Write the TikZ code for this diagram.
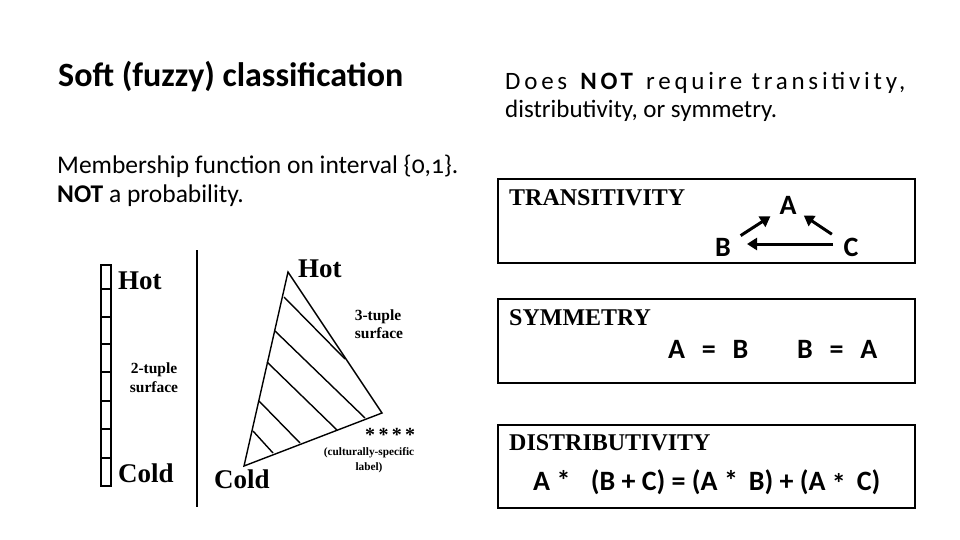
\documentclass[tikz,border=0pt]{standalone}
\usepackage{fontspec}
\setmainfont{Carlito}
\newfontfamily\bodyfont{Carlito}[Numbers=OldStyle]
\newfontfamily\spacedfont{Carlito}[LetterSpace=15]
\newfontfamily\tms{Liberation Serif}
\usetikzlibrary{arrows.meta}
\tikzset{
  lbl/.style={inner sep=0pt, anchor=base west},
  ctr/.style={inner sep=0pt, anchor=base},
  mid/.style={inner sep=0pt, anchor=center},
  panel/.style={draw, line width=2pt, anchor=north west, inner sep=0pt},
  arr/.style={line width=3pt, -{Triangle[length=10pt,width=12pt]}},
  fig/.style={line width=1.4pt},
}
\begin{document}
\begin{tikzpicture}[x=1pt,y=-1pt]
\useasboundingbox[fill=white] (0,0) rectangle (960,540);

% Title and left text
\node[lbl, font=\bfseries\fontsize{34}{34}\selectfont] (title) at (58,87) {Soft (fuzzy) classification};
\node[lbl, font=\bodyfont\fontsize{25.5}{25.5}\selectfont] (mem1) at (57,174) {Membership function on interval \{0,1\}.};
\node[lbl, font=\bodyfont\fontsize{25.5}{25.5}\selectfont] (mem2) at (57,202) {\textbf{NOT} a probability.};

% Right text
\node[lbl, font=\spacedfont\fontsize{25}{25}\selectfont] (req1) at (505,90) {Does \textbf{NOT} require transitivity,};
\node[lbl, font=\fontsize{25}{25}\selectfont] (req2) at (505,118) {distributivity, or symmetry.};

% Panels
\node[panel, minimum width=417pt, minimum height=84pt] (boxT) at (497,178) {};
\node[panel, minimum width=417pt, minimum height=84pt] (boxS) at (497,298) {};
\node[panel, minimum width=417pt, minimum height=83pt] (boxD) at (497,424) {};

\node[lbl, font=\tms\bfseries\fontsize{24}{24}\selectfont] (tT) at (509,205) {TRANSITIVITY};
\node[lbl, font=\tms\bfseries\fontsize{24}{24}\selectfont] (tS) at (509,325) {SYMMETRY};
\node[lbl, font=\tms\bfseries\fontsize{24}{24}\selectfont] (tD) at (509,450) {DISTRIBUTIVITY};

% Transitivity triangle
\node[mid, font=\bfseries\fontsize{28}{28}\selectfont] (A) at (788,205) {A};
\node[mid, font=\bfseries\fontsize{28}{28}\selectfont] (B) at (723,247) {B};
\node[mid, font=\bfseries\fontsize{28}{28}\selectfont] (C) at (851,247) {C};
\draw[arr, shorten <=21pt, shorten >=21pt] (B.center) -- (A.center);
\draw[arr, shorten <=23pt, shorten >=19pt] (C.center) -- (A.center);
\draw[arr, shorten <=18pt, shorten >=24pt] ([yshift=3pt]C.center) -- ([yshift=3pt]B.center);

% Symmetry
\node[lbl, font=\bfseries\fontsize{28}{28}\selectfont] (sym1) at (668,358) {A\hspace{0.6em}=\hspace{0.6em}B};
\node[lbl, font=\bfseries\fontsize{28}{28}\selectfont] (sym2) at (797,358) {B\hspace{0.6em}=\hspace{0.6em}A};

% Distributivity
\node[lbl, font=\bfseries\fontsize{28}{28}\selectfont] (dist) at (533,490) {A *\hspace{0.5em} (B + C) = (A * \,B) + (A \raisebox{-0.25ex}{*} \,C)};

% Left figure: ladder
\draw[fig] (101,265) rectangle (111,486);
\foreach \yy in {289,317,344,372,401,429,458} \draw[fig] (101,\yy) -- (111,\yy);
\node[lbl, font=\tms\bfseries\fontsize{27}{27}\selectfont] (hot1) at (118,289) {Hot};
\node[lbl, font=\tms\bfseries\fontsize{27}{27}\selectfont] (cold1) at (118,482) {Cold};
\node[ctr, font=\tms\bfseries\fontsize{15.5}{15.5}\selectfont] (tup2a) at (154,373) {2-tuple};
\node[ctr, font=\tms\bfseries\fontsize{15.5}{15.5}\selectfont] (tup2b) at (154,392) {surface};

% divider
\draw[fig] (197,250) -- (197,507);

% Triangle
\coordinate (th) at (288,272);
\coordinate (tc) at (244,466);
\coordinate (tr) at (382,413);
\draw[fig, line join=miter] (th) -- (tc) -- (tr) -- cycle;
\draw[fig] (284,297) -- (345,359);
\draw[fig] (275,331) -- (365,418);
\draw[fig] (267,362) -- (337,430);
\draw[fig] (259,401) -- (300,443);
\draw[fig] (253,431) -- (273,453);

\node[lbl, font=\tms\bfseries\fontsize{27}{27}\selectfont] (hot2) at (298,277) {Hot};
\node[lbl, font=\tms\bfseries\fontsize{27}{27}\selectfont] (cold2) at (214,488) {Cold};
\node[ctr, font=\tms\bfseries\fontsize{15.5}{15.5}\selectfont] (tup3a) at (378,320) {3-tuple};
\node[ctr, font=\tms\bfseries\fontsize{15.5}{15.5}\selectfont] (tup3b) at (379,338) {surface};
\node[lbl, font=\tms\bfseries\fontsize{20}{20}\selectfont] (stars) at (365,441) {*\,*\,*\,*};
\node[ctr, font=\tms\bfseries\fontsize{11.3}{11.3}\selectfont] (cs1) at (369,455) {(culturally-specific};
\node[ctr, font=\tms\bfseries\fontsize{11.3}{11.3}\selectfont] (cs2) at (369,470) {label)};
\end{tikzpicture}
\end{document}
